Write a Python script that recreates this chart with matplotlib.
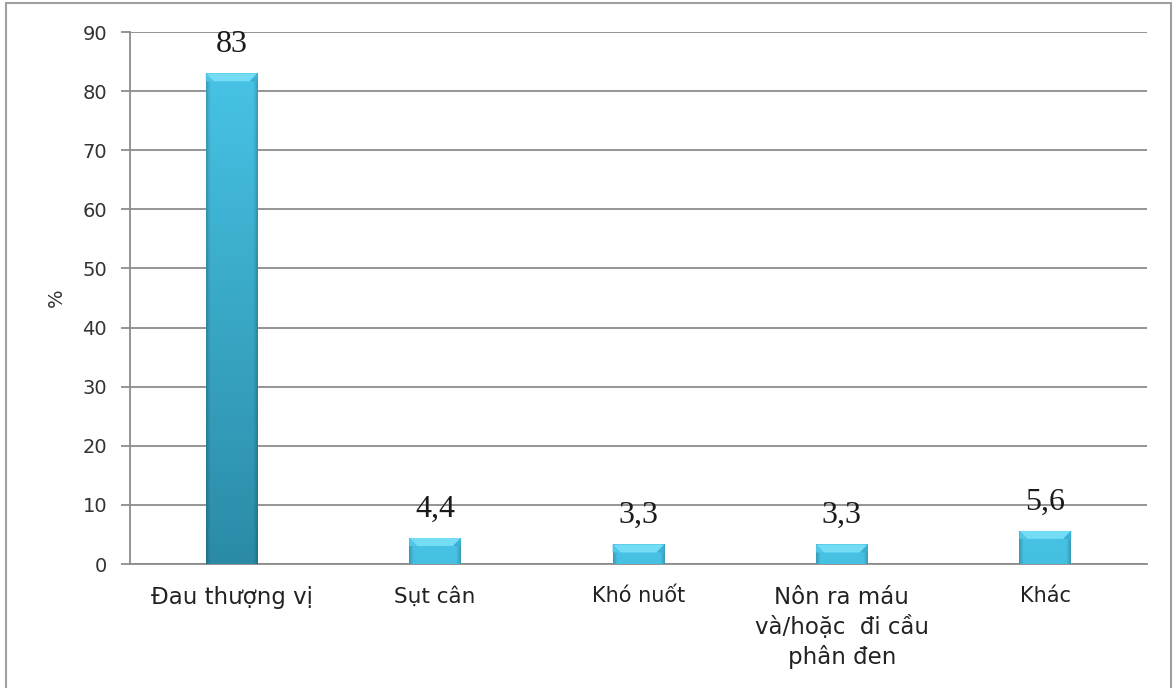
import numpy as np
import matplotlib
matplotlib.use("Agg")
import matplotlib.pyplot as plt
from matplotlib.patches import Polygon, Rectangle
from matplotlib.colors import to_rgb

# du lieu
categories = ["Đau thượng vị", "Sụt cân", "Khó nuốt",
              "Nôn ra máu\nvà/hoặc  đi cầu\nphân đen", "Khác"]
values = [83, 4.4, 3.3, 3.3, 5.6]
value_labels = ["83", "4,4", "3,3", "3,3", "5,6"]
label_sizes = [16.5, 15.5, 15, 16.5, 15]
y_ticks = list(range(0, 91, 10))

W, H, DPI = 1176, 688, 100
fig = plt.figure(figsize=(W / DPI, H / DPI), dpi=DPI)
ax = fig.add_axes([130 / W, 1 - 564 / H, (1147 - 130) / W, (564 - 32) / H])

x = np.arange(len(categories))
bars = ax.bar(x, values, width=0.255, color="#3fb6da", zorder=3)

ax.set_xlim(-0.5, len(categories) - 0.5)
ax.set_ylim(0, 90)
ax.set_yticks(y_ticks)

# gradient: sang o dinh, toi dan xuong duoi (theo khoang cach tu dinh)
top_c = np.array(to_rgb("#47c3e5"))
bot_c = np.array(to_rgb("#2b8ba7"))
px_per_unit = (564 - 32) / 90.0
px_per_x = (1147 - 130) / len(categories)
for b, v in zip(bars, values):
    x0, w = b.get_x(), b.get_width()
    yy = np.linspace(0, v, 200)
    t = np.clip((v - yy) / 83.0, 0, 1)[:, None, None]
    img = top_c[None, None, :] * (1 - t) + bot_c[None, None, :] * t
    img = np.repeat(img, 60, axis=1)
    u = np.linspace(0, 1, 60)
    edge = 1 - 0.2 * np.clip(1 - np.minimum(u, 1 - u) / 0.08, 0, 1)
    img = img * edge[None, :, None]
    im = ax.imshow(img, origin="lower", extent=[x0, x0 + w, 0, v],
                   aspect="auto", zorder=4, interpolation="bilinear")
    im.set_clip_path(b)
    # mat vat phia tren
    dy = 8 / px_per_unit
    dx = 8 / px_per_x
    bevel = Polygon([(x0, v), (x0 + w, v), (x0 + w - dx, v - dy), (x0 + dx, v - dy)],
                    closed=True, facecolor="#74dcf4", edgecolor="none", zorder=5)
    ax.add_patch(bevel)
    side_l = Polygon([(x0, v), (x0 + dx, v - dy), (x0, v - dy)], closed=True,
                     facecolor="#52c6e6", edgecolor="none", zorder=5)
    side_r = Polygon([(x0 + w, v), (x0 + w - dx, v - dy), (x0 + w, v - dy)], closed=True,
                     facecolor="#3cb0d4", edgecolor="none", zorder=5)
    ax.add_patch(side_l)
    ax.add_patch(side_r)

ax.set_xlim(-0.5, len(categories) - 0.5)
ax.set_ylim(0, 90)

for xi, v, lab in zip(x, values, value_labels):
    ax.annotate(lab, (xi, v), xytext=(0, 15.5), textcoords="offset points",
                ha="center", va="baseline", fontsize=23,
                family="Liberation Serif", color="#1a1a1a", zorder=6)

ax.grid(axis="y", color="#8c8c8c", linewidth=1.3, zorder=1)
ax.set_axisbelow(True)
for s in ["top", "right"]:
    ax.spines[s].set_visible(False)
for s in ["left", "bottom"]:
    ax.spines[s].set_color("#8c8c8c")
    ax.spines[s].set_linewidth(1.3)

ax.tick_params(axis="y", length=6.5, width=1.3, color="#8c8c8c", pad=10,
               labelsize=14, labelcolor="#333333")
ax.tick_params(axis="x", length=0, pad=16)
ax.set_xticks(x)
ax.set_xticklabels(categories, color="#222222", linespacing=1.3)
for t, s in zip(ax.get_xticklabels(), label_sizes):
    t.set_fontsize(s)

ax.set_ylabel("%", fontsize=14, color="#333333", labelpad=12)

# khung vien
fig.patches.append(Rectangle((6 / W, -0.05), (1171 - 6) / W, 1.05 - 3 / H,
                             transform=fig.transFigure, fill=False,
                             edgecolor="#a0a0a0", linewidth=1.5))

fig.savefig("out.png", dpi=DPI)
